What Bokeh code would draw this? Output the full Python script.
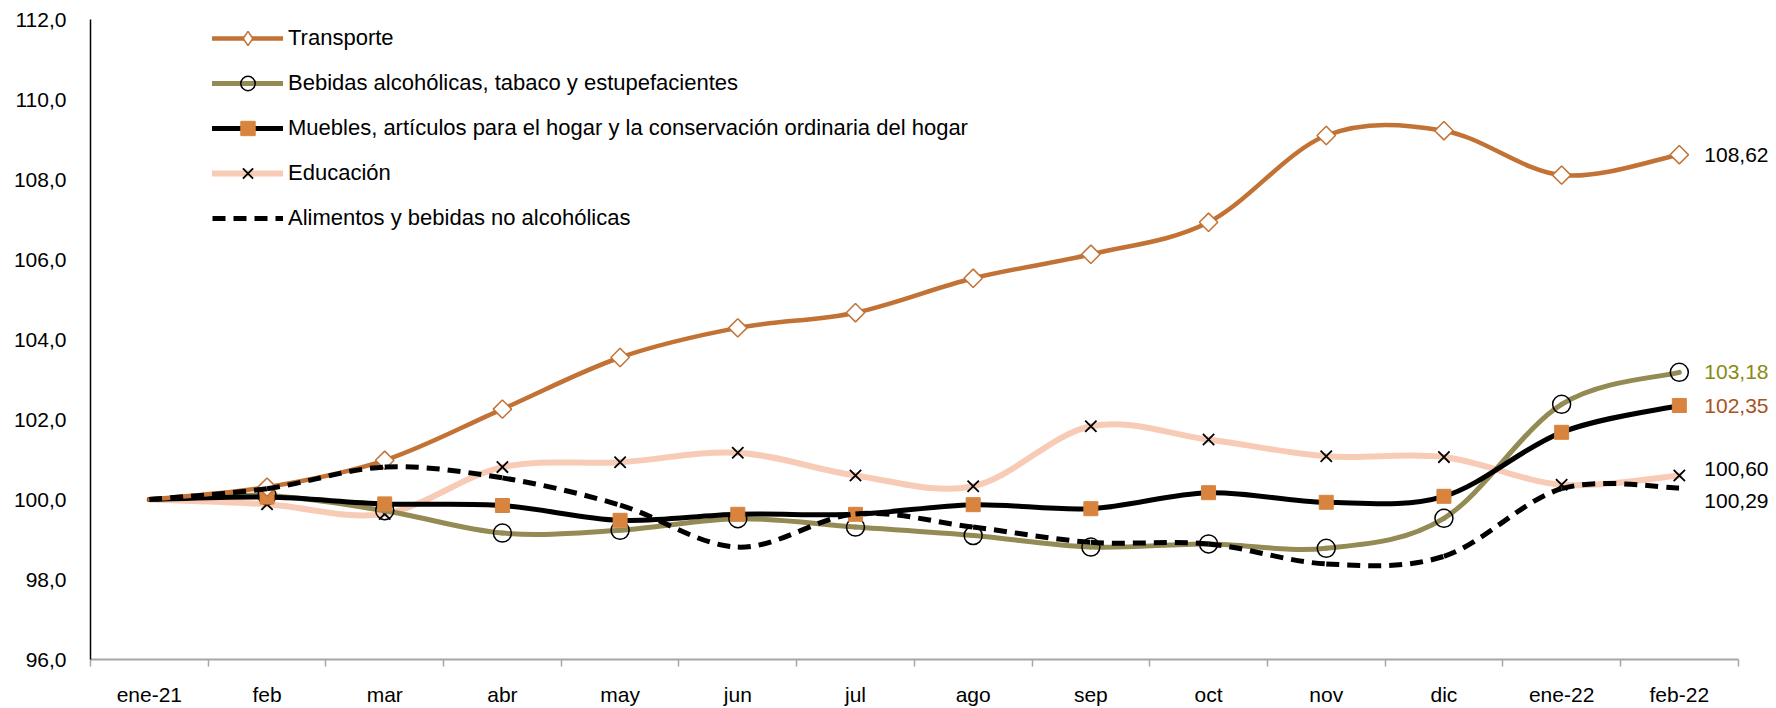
import numpy as np
from bokeh.plotting import figure
from bokeh.models import Range1d, FixedTicker, Legend, LegendItem, Label
from bokeh.embed import file_html
from bokeh.resources import INLINE

# ---------------- data ----------------
months = ["ene-21", "feb", "mar", "abr", "may", "jun", "jul", "ago", "sep",
          "oct", "nov", "dic", "ene-22", "feb-22"]

transporte = [100.00, 100.31, 100.98, 102.26, 103.55, 104.29, 104.67, 105.53,
              106.13, 106.93, 109.10, 109.22, 108.11, 108.62]
bebidas = [100.00, 100.10, 99.72, 99.16, 99.23, 99.52, 99.31, 99.10,
           98.81, 98.89, 98.78, 99.53, 102.38, 103.18]
muebles = [100.00, 100.06, 99.89, 99.85, 99.48, 99.63, 99.63, 99.87,
           99.77, 100.17, 99.93, 100.08, 101.68, 102.35]
educacion = [100.00, 99.88, 99.64, 100.81, 100.93, 101.17, 100.60, 100.33,
             101.83, 101.50, 101.08, 101.06, 100.37, 100.60]
alimentos = [100.00, 100.27, 100.81, 100.54, 99.86, 98.81, 99.64, 99.31,
             98.93, 98.89, 98.39, 98.58, 100.27, 100.29]

series_names = ["Transporte",
                "Bebidas alcohólicas, tabaco y estupefacientes",
                "Muebles, artículos para el hogar y la conservación ordinaria del hogar",
                "Educación",
                "Alimentos y bebidas no alcohólicas"]

end_labels = ["108,62", "103,18", "102,35", "100,60", "100,29"]

y_ticks = [96, 98, 100, 102, 104, 106, 108, 110, 112]
y_tick_labels = ["96,0", "98,0", "100,0", "102,0", "104,0", "106,0",
                 "108,0", "110,0", "112,0"]

# ---------------- style ----------------
FONT = "Liberation Sans"
C_TRANS = "#C27234"
C_BEB = "#948A54"
C_MUEB_LINE = "#000000"
C_MUEB_MARK = "#D9843E"
C_EDU = "#F7CBB6"
C_ALI = "#000000"

n = len(months)
x = np.arange(n) + 0.5


def bezier_parts(xs, ys):
    xs = np.asarray(xs, float)
    ys = np.asarray(ys, float)
    m = len(xs)
    xp = np.concatenate([[xs[0]], xs, [xs[-1]]])
    yp = np.concatenate([[ys[0]], ys, [ys[-1]]])
    return dict(
        x0=xs[:-1], y0=ys[:-1], x1=xs[1:], y1=ys[1:],
        cx0=xp[1:m] + (xp[2:m + 1] - xp[0:m - 1]) / 6.0,
        cy0=yp[1:m] + (yp[2:m + 1] - yp[0:m - 1]) / 6.0,
        cx1=xp[2:m + 1] - (xp[3:m + 2] - xp[1:m]) / 6.0,
        cy1=yp[2:m + 1] - (yp[3:m + 2] - yp[1:m]) / 6.0,
    )


W, H = 1776, 708
LEFT, TOP, BOTTOM = 90, 19, 49
CAT_PX = 117.69
x_end = (W - LEFT) / CAT_PX   # frame reaches the right edge so end labels show

p = figure(width=W, height=H, output_backend="svg", toolbar_location=None,
           x_range=Range1d(0, x_end), y_range=Range1d(96, 112),
           min_border_left=LEFT, min_border_right=0, min_border_top=TOP,
           min_border_bottom=BOTTOM)
p.outline_line_color = None
p.xgrid.visible = False
p.ygrid.visible = False
p.background_fill_color = "white"
p.border_fill_color = "white"

# x axis
xa = p.xaxis[0]
xa.bounds = (0, n)
xa.ticker = FixedTicker(ticks=list(x), minor_ticks=list(range(n + 1)))
xa.major_label_overrides = {float(xi): m for xi, m in zip(x, months)}
xa.major_tick_line_color = None
xa.major_tick_out = 0
xa.major_tick_in = 0
xa.minor_tick_line_color = "#A6A6A6"
xa.minor_tick_line_width = 1.5
xa.minor_tick_out = 7
xa.minor_tick_in = 0
xa.axis_line_color = "#A6A6A6"
xa.axis_line_width = 2
xa.major_label_standoff = 16
xa.major_label_text_font = FONT
xa.major_label_text_font_size = "21px"
xa.major_label_text_color = "black"

# y axis
ya = p.yaxis[0]
ya.ticker = FixedTicker(ticks=y_ticks)
ya.major_label_overrides = dict(zip(y_ticks, y_tick_labels))
ya.major_tick_line_color = None
ya.major_tick_out = 0
ya.major_tick_in = 0
ya.minor_tick_line_color = None
ya.axis_line_color = "black"
ya.axis_line_width = 1.5
ya.major_label_standoff = 24
ya.major_label_text_font = FONT
ya.major_label_text_font_size = "21px"
ya.major_label_text_color = "black"

# markers start at the second month (the base month has none)
xm = x[1:]

# ---------------- series (drawing order as in reference) ----------------
# Educación
l_edu = p.bezier(**bezier_parts(x, educacion), line_color=C_EDU, line_width=6, line_cap="round")
r_edu_m = p.scatter(xm, educacion[1:], marker="x", size=16, line_color="black", line_width=1.8)
# Bebidas
l_beb = p.bezier(**bezier_parts(x, bebidas), line_color=C_BEB, line_width=5, line_cap="round")
r_beb_m = p.scatter(xm, bebidas[1:], marker="circle", size=18, fill_color=None,
                    line_color="black", line_width=1.5)
# Muebles
l_mue = p.bezier(**bezier_parts(x, muebles), line_color=C_MUEB_LINE, line_width=5, line_cap="round")
r_mue_m = p.scatter(xm, muebles[1:], marker="square", size=14, fill_color=C_MUEB_MARK,
                    line_color=C_MUEB_MARK, line_width=1)
# Transporte
l_tra = p.bezier(**bezier_parts(x, transporte), line_color=C_TRANS, line_width=4.5, line_cap="round")
r_tra_m = p.scatter(xm, transporte[1:], marker="square", angle=np.pi / 4, size=13,
                    fill_color="white", line_color=C_TRANS, line_width=1.5)
# Alimentos
l_ali = p.bezier(**bezier_parts(x, alimentos), line_color=C_ALI, line_width=5,
                 line_dash="13 8", line_cap="butt")

# legend-only marker (diamond as drawn in the legend)
lg_tra_m = p.scatter(x=[np.nan], y=[np.nan], marker="diamond", size=14,
                     fill_color="white", line_color=C_TRANS, line_width=1.5)

items = [
    LegendItem(label=series_names[0], renderers=[l_tra, lg_tra_m]),
    LegendItem(label=series_names[1], renderers=[l_beb, r_beb_m]),
    LegendItem(label=series_names[2], renderers=[l_mue, r_mue_m]),
    LegendItem(label=series_names[3], renderers=[l_edu, r_edu_m]),
    LegendItem(label=series_names[4], renderers=[l_ali]),
]
legend = Legend(items=items, location=(122, 423), orientation="vertical",
                glyph_width=71, glyph_height=36, label_height=36, spacing=9,
                padding=0, margin=0, label_standoff=5,
                label_text_font=FONT, label_text_font_size="22px",
                label_text_color="black", border_line_color=None,
                background_fill_alpha=0)
p.add_layout(legend)

# end value labels
end_vals = [transporte[-1], bebidas[-1], muebles[-1], educacion[-1], alimentos[-1]]
end_colors = ["black", "#8A8A12", "#A8531F", "black", "black"]
end_yoff = [0, 0, 0, 7, -13]
for txt, val, col, yo in zip(end_labels, end_vals, end_colors, end_yoff):
    p.add_layout(Label(x=x[-1], y=val, x_offset=25, y_offset=yo, text=txt,
                       text_font=FONT, text_font_size="21px", text_color=col,
                       text_baseline="middle", text_align="left"))

open("out.html", "w").write(file_html(p, INLINE))
